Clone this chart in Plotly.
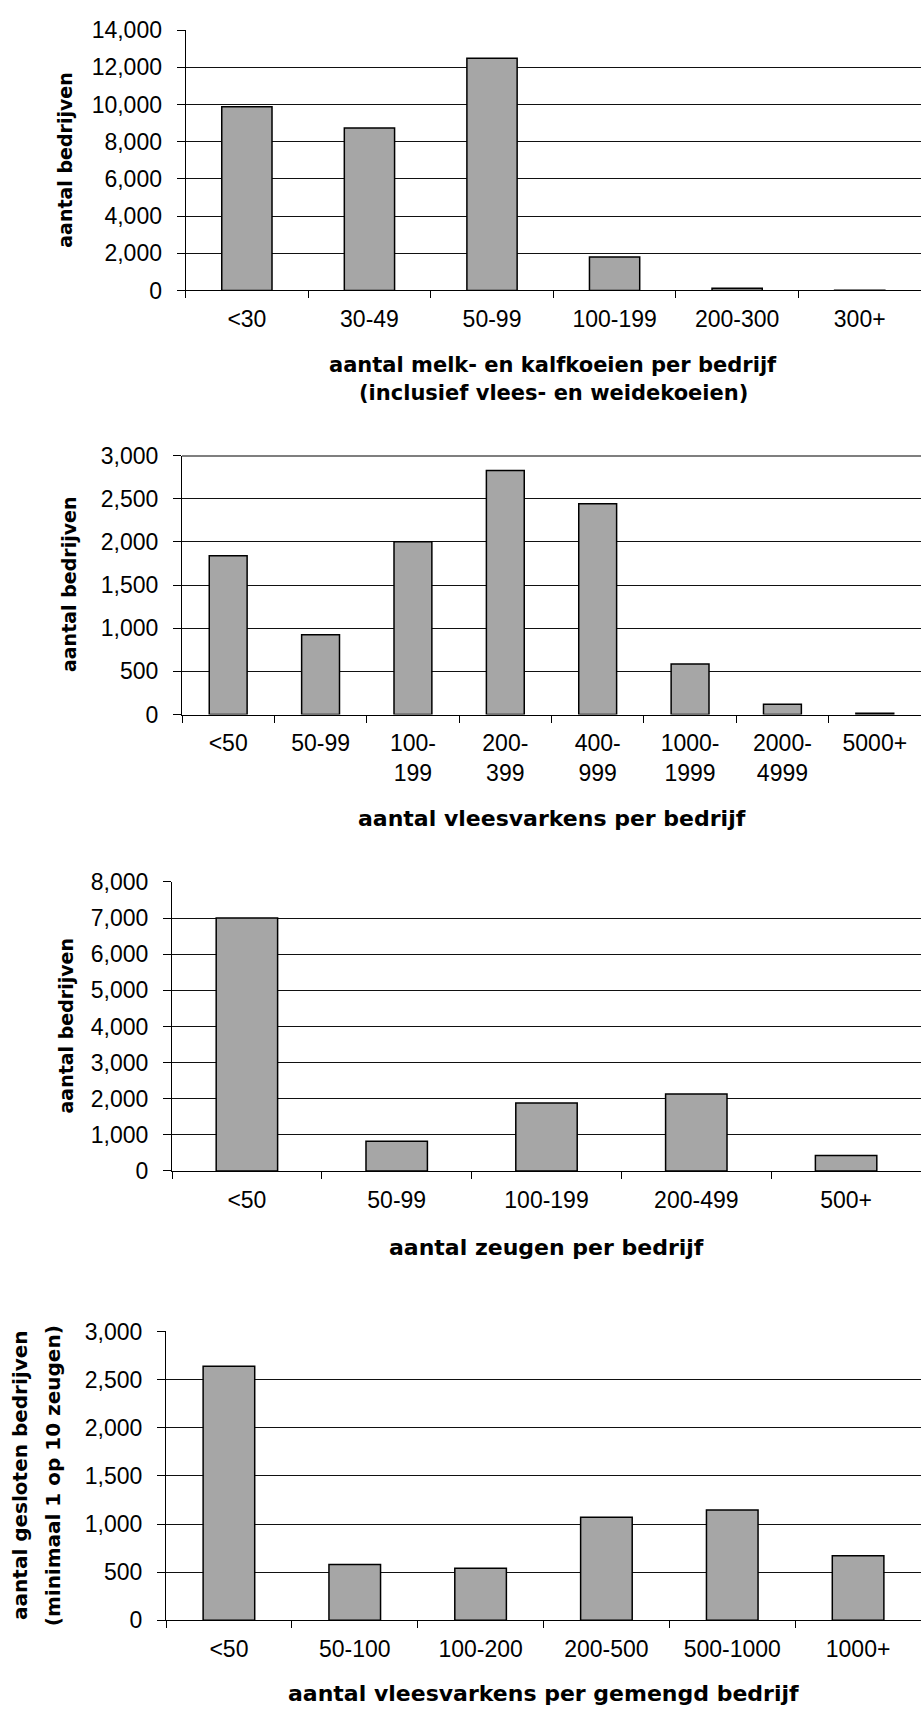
import plotly.graph_objects as go

W, H = 921, 1721

# --- data -------------------------------------------------------------
melk_cats = ["<30", "30-49", "50-99", "100-199", "200-300", "300+"]
melk_vals = [9880, 8740, 12480, 1800, 120, 10]

vlees_cats = ["<50", "50-99", "100-<br>199", "200-<br>399", "400-<br>999",
              "1000-<br>1999", "2000-<br>4999", "5000+"]
vlees_vals = [1840, 925, 2000, 2825, 2440, 585, 118, 15]

zeug_cats = ["<50", "50-99", "100-199", "200-499", "500+"]
zeug_vals = [7000, 820, 1880, 2130, 430]

gemengd_cats = ["<50", "50-100", "100-200", "200-500", "500-1000", "1000+"]
gemengd_vals = [2640, 580, 540, 1070, 1145, 670]

y_ranges = [14000, 3000, 8000, 3000]
y_dticks = [2000, 500, 1000, 500]

x_titles = [
    ["aantal melk- en kalfkoeien per bedrijf", "(inclusief vlees- en weidekoeien)"],
    ["aantal vleesvarkens per bedrijf"],
    ["aantal zeugen per bedrijf"],
    ["aantal vleesvarkens per gemengd bedrijf"],
]
y_titles = [
    ["aantal bedrijven"],
    ["aantal bedrijven"],
    ["aantal bedrijven"],
    ["aantal gesloten bedrijven", "(minimaal 1 op 10 zeugen)"],
]

# --- layout geometry (pixels) -----------------------------------------
plot_left = [185.6, 182.0, 172.0, 166.0]
plot_right = [921.0, 921.0, 921.0, 921.0]
plot_top = [17.3, 449.3, 882.3, 1338.7]
plot_bottom = [281.7, 712.3, 1175.7, 1632.0]
xtitle_y = [[357, 386], [818], [1253], [1706]]
xtitle_size = [21, 22, 22, 22]
ytitle_x = [[65.5], [69.0], [66.0], [20.0, 53.3]]
ytitle_size = [19, 19, 19, 20]

BAR_FILL = "#a6a6a6"
TICK_FONT = dict(family="Liberation Sans, Arial, sans-serif", size=23, color="black")
TITLE_FAMILY = "DejaVu Sans, Verdana, sans-serif"

def px_x(v):
    return v / W

def px_y(v):
    return 1 - v / H

charts = [
    (melk_cats, melk_vals),
    (vlees_cats, vlees_vals),
    (zeug_cats, zeug_vals),
    (gemengd_cats, gemengd_vals),
]

fig = go.Figure()
layout = {}
annotations = []

for i, (cats, vals) in enumerate(charts):
    n = "" if i == 0 else str(i + 1)
    fig.add_trace(go.Bar(
        x=cats, y=vals,
        xaxis="x" + n, yaxis="y" + n,
        marker=dict(color=BAR_FILL, line=dict(color="black", width=1.5)),
        showlegend=False, hoverinfo="x+y",
    ))
    layout["xaxis" + n] = dict(
        domain=[px_x(plot_left[i]), px_x(plot_right[i])],
        anchor="y" + n,
        type="category",
        tickson="boundaries",
        ticks="outside", ticklen=7, tickwidth=1, tickcolor="black",
        showline=True, linecolor="black", linewidth=1,
        showgrid=False, zeroline=False,
        tickfont=TICK_FONT,
        ticklabelstandoff=8,
        fixedrange=True,
    )
    layout["yaxis" + n] = dict(
        domain=[px_y(plot_bottom[i]), px_y(plot_top[i])],
        anchor="x" + n,
        range=[0, y_ranges[i]],
        dtick=y_dticks[i], tick0=0,
        tickformat=",d",
        ticks="outside", ticklen=8, tickwidth=1, tickcolor="black",
        showline=True, linecolor="black", linewidth=1,
        showgrid=True, gridcolor="#111111", gridwidth=1,
        zeroline=False,
        tickfont=TICK_FONT,
        ticklabelstandoff=10,
        fixedrange=True,
    )
    xc = px_x((plot_left[i] + plot_right[i]) / 2)
    for text, yy in zip(x_titles[i], xtitle_y[i]):
        annotations.append(dict(
            text="<b>" + text + "</b>", xref="paper", yref="paper",
            x=xc, y=px_y(yy), xanchor="center", yanchor="middle",
            showarrow=False,
            font=dict(family=TITLE_FAMILY, size=xtitle_size[i], color="black"),
        ))
    yc = px_y((plot_top[i] + plot_bottom[i]) / 2)
    for text, xx in zip(y_titles[i], ytitle_x[i]):
        annotations.append(dict(
            text="<b>" + text + "</b>", xref="paper", yref="paper",
            x=px_x(xx), y=yc, xanchor="center", yanchor="middle",
            textangle=-90, showarrow=False,
            font=dict(family=TITLE_FAMILY, size=ytitle_size[i], color="black"),
        ))

# heavier border line along the top gridline of the second chart
shapes = [dict(
    type="line", xref="x2 domain", yref="y2",
    x0=0, x1=1, y0=y_ranges[1], y1=y_ranges[1],
    line=dict(color="black", width=2), layer="above",
)]

fig.update_layout(
    width=W, height=H, autosize=False,
    margin=dict(l=0, r=0, t=0, b=0),
    paper_bgcolor="white", plot_bgcolor="white",
    bargap=0.59,
    annotations=annotations,
    shapes=shapes,
    **layout,
)

fig.write_html("out.html", config={"displayModeBar": False})
